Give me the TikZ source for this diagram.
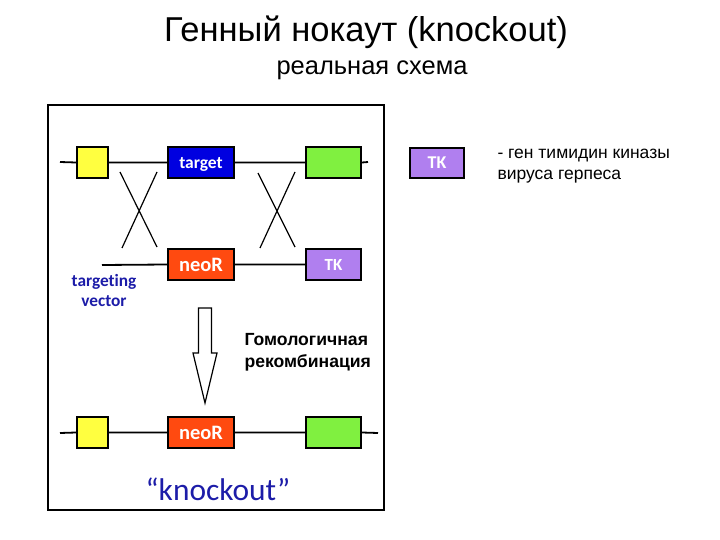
\documentclass[tikz,border=0pt]{standalone}
\usepackage{fontspec}
\setmainfont{Liberation Sans}
\newfontfamily\calfont[Ligatures=NoCommon]{Carlito}
\usepackage{xcolor}
\usetikzlibrary{positioning,calc}
\definecolor{koyellow}{HTML}{FFFF40}
\definecolor{kogreen}{HTML}{80F040}
\definecolor{kotarget}{HTML}{0000E0}
\definecolor{koneo}{HTML}{FF4A10}
\definecolor{kotk}{HTML}{B07FEF}
\definecolor{koblue}{HTML}{1C1CA8}
\begin{document}
\begin{tikzpicture}[
  x=1pt, y=-1pt,
  gbox/.style={draw=black, line width=1.8pt, inner sep=0pt, minimum height=31pt,
    text=white, font=\calfont\bfseries},
  dna/.style={line width=1.8pt, black},
  cross/.style={line width=1.2pt, black},
  ]
  \useasboundingbox (0,0) rectangle (720,540);
  % title
  \node[font=\fontsize{34.5}{38}\selectfont] (title) at (366,32) {Генный нокаут (knockout)};
  \node[font=\fontsize{25.5}{28}\selectfont] (subtitle) at (372,70) {реальная схема};
  \draw[line width=1.2pt] (48,105) rectangle (384,510);
  % chromosome
  \coordinate (cl) at (60,162);
  \coordinate (cr) at (368,162);
  \node[gbox, fill=koyellow, minimum width=31pt] (y1) at (92.5,162.5) {};
  \node[gbox, fill=kotarget, minimum width=66pt, text depth=0pt, font=\calfont\bfseries\fontsize{17.5}{19}\selectfont] (t1) at (201,162.5) {target};
  \node[gbox, fill=kogreen, minimum width=55pt] (g1) at (333.5,162.5) {};
  \draw[dna] (cl) -- (y1.west) (y1.east) -- (t1.west) (t1.east) -- (g1.west) (g1.east) -- (cr);
  % targeting vector
  \coordinate (vl) at (102,265);
  \node[gbox, fill=koneo, minimum width=66pt, font=\calfont\bfseries\fontsize{20.5}{22}\selectfont] (n1) at (201,264.5) {neoR};
  \node[gbox, fill=kotk, minimum width=55pt, font=\calfont\bfseries\fontsize{17}{19}\selectfont] (tk1) at (333.5,264.5) {TK};
  \draw[dna] (vl) -- (n1.west) (n1.east) -- (tk1.west);
  \node[align=center, text=koblue, font=\calfont\bfseries\fontsize{17.3}{20}\selectfont] (tv) at (104,290) {targeting\\vector};
  % crossing over
  \draw[cross] (120,172) -- (157,247) (157,172) -- (122,248);
  \draw[cross] (258,173) -- (295,247) (295,172) -- (260,248);
  % recombination arrow
  \draw[line width=1.2pt, fill=white] (198.5,308) -- (211.5,308) -- (211.5,353) -- (217,353)
    -- (205,403) -- (193,353) -- (198.5,353) -- cycle;
  \node[align=left, anchor=west, font=\bfseries\fontsize{17.6}{22}\selectfont] (hr) at (241,352) {Гомологичная\\рекомбинация};
  % knockout allele
  \coordinate (kl) at (60,433);
  \coordinate (kr) at (378,433);
  \node[gbox, fill=koyellow, minimum width=31pt] (y2) at (92.5,432.5) {};
  \node[gbox, fill=koneo, minimum width=66pt, font=\calfont\bfseries\fontsize{20.5}{22}\selectfont] (n2) at (201,432.5) {neoR};
  \node[gbox, fill=kogreen, minimum width=55pt] (g2) at (333.5,432.5) {};
  \draw[dna] (kl) -- (y2.west) (y2.east) -- (n2.west) (n2.east) -- (g2.west) (g2.east) -- (kr);
  \node[text=koblue, font=\calfont\fontsize{31.4}{34}\selectfont] (ko) at (218,489) {“knockout”};
  % legend
  \node[gbox, fill=kotk, minimum width=54pt, minimum height=30pt, font=\calfont\bfseries\fontsize{18}{20}\selectfont] (tk2) at (437,163) {TK};
  \node[align=left, anchor=west, font=\fontsize{17.5}{21}\selectfont] (leg) at (494,166) {- ген тимидин киназы\\вируса герпеса};
\end{tikzpicture}
\end{document}
